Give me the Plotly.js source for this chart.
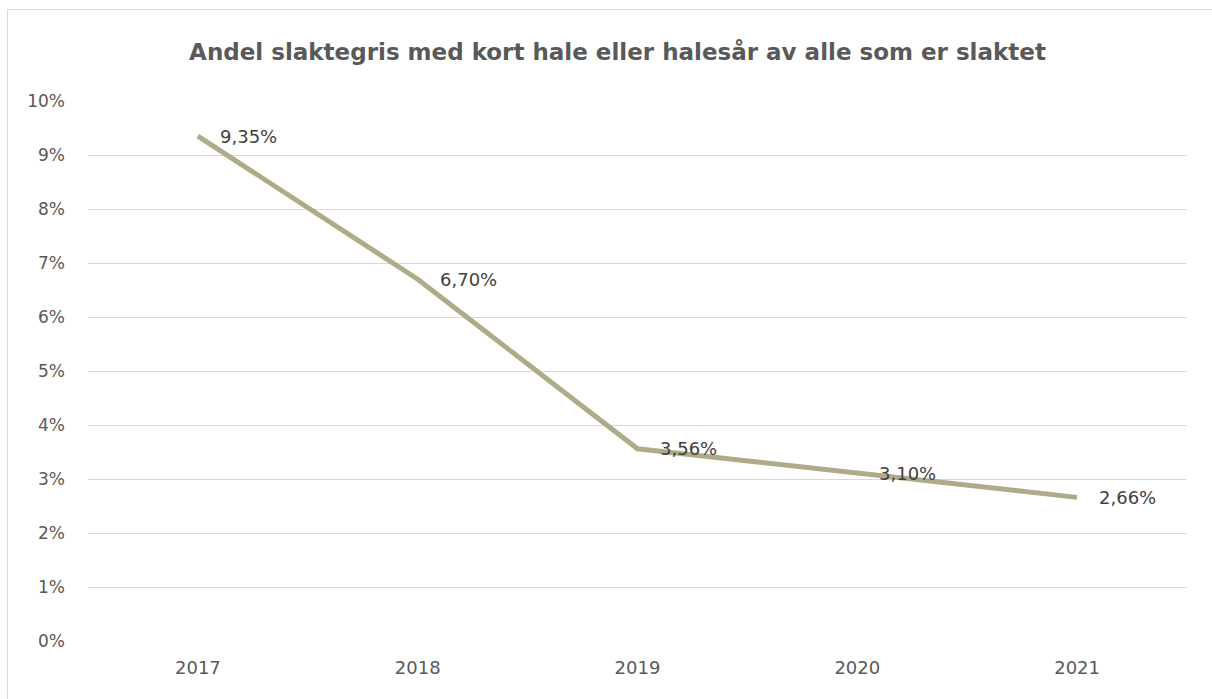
<!DOCTYPE html>
<html><head><meta charset="utf-8">
<script src="https://cdn.plot.ly/plotly-3.0.1.min.js"></script>
<style>
html,body{margin:0;padding:0;background:#fff;}
#frame{position:absolute;left:7px;top:9px;width:1220px;height:720px;border:1px solid #d9d9d9;}
#chart{position:absolute;left:0;top:0;width:1212px;height:699px;}
</style></head>
<body>
<div id="frame"></div>
<div id="chart"></div>
<script>
const years = ['2017','2018','2019','2020','2021'];
const shares = [9.35, 6.70, 3.56, 3.10, 2.66];
const labels = shares.map(v => v.toFixed(2).replace('.', ',') + '%');

const FONT = 'DejaVu Sans, sans-serif';
const trace = {
  x: years, y: shares, type: 'scatter', mode: 'lines',
  line: {color: '#afaa88', width: 5},
  hoverinfo: 'skip'
};
const annotations = years.map((yr, i) => ({
  x: i, y: shares[i], xref: 'x', yref: 'y', text: labels[i],
  showarrow: false, xanchor: 'left', yanchor: 'middle', xshift: 20, yshift: 0,
  font: {family: FONT, size: 18, color: '#404040'}
}));
const layout = {
  width: 1212, height: 699,
  paper_bgcolor: 'rgba(0,0,0,0)', plot_bgcolor: 'rgba(0,0,0,0)',
  margin: {l: 88, r: 25, t: 101, b: 58},
  title: {text: '<b>Andel slaktegris med kort hale eller halesår av alle som er slaktet</b>',
    xref: 'container', x: 0.5095, xanchor: 'center', y: 0.925, yanchor: 'middle',
    font: {family: FONT, size: 23, color: '#595959'}},
  showlegend: false,
  xaxis: {type: 'category', range: [-0.5, 4.5], showgrid: false, zeroline: false, showline: false, ticks: '',
    tickfont: {family: FONT, size: 18, color: '#595959'}, ticklabelstandoff: 14},
  yaxis: {range: [0, 10], dtick: 1, tick0: 0, ticksuffix: '%', showgrid: true, gridcolor: '#d9d9d9', gridwidth: 1,
    zeroline: false, showline: false, ticks: '',
    tickfont: {family: FONT, size: 17, color: '#595959'}, ticklabelstandoff: 22},
  annotations: annotations
};
Plotly.newPlot('chart', [trace], layout, {displayModeBar: false, staticPlot: true});
</script>
</body></html>
